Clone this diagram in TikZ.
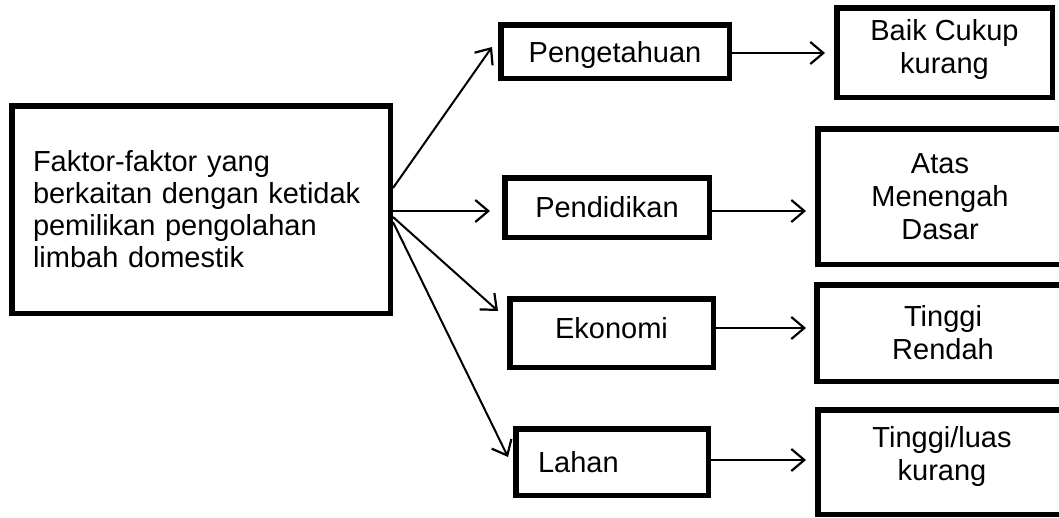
\documentclass[tikz,border=0pt]{standalone}
\usepackage{fontspec}
\setmainfont{Liberation Sans}
\usetikzlibrary{arrows.meta,calc}
\tikzset{
  box/.style={draw, line width=5.5pt, inner sep=0pt, font=\fontsize{29pt}{32pt}\selectfont},
  rbox/.style={box, align=center, font=\fontsize{29pt}{33pt}\selectfont},
  conn/.style={line width=2pt, -{Straight Barb[length=13pt,width=22pt,line width=2.2pt]}},
}
\begin{document}
\begin{tikzpicture}[x=1pt,y=-1pt]
\useasboundingbox (0,0) rectangle (1059,517);
\clip (0,0) rectangle (1059,517);
% main box
\node[box, minimum width=378.5pt, minimum height=207.5pt, text width=336pt, align=left] (main) at (201,209.5)
  {Faktor-faktor yang\\ berkaitan dengan ketidak\\ pemilikan pengolahan\\ limbah domestik};
% middle boxes
\node[box, minimum width=228.5pt, minimum height=53.5pt, text depth=0pt] (peng) at (615,51.5) {Pengetahuan};
\node[box, minimum width=204.5pt, minimum height=59.5pt] (pend) at (607,207.5) {Pendidikan};
\node[box, minimum width=203.5pt, minimum height=68.5pt, text depth=10pt] (ekon) at (611.5,333) {Ekonomi};
\node[box, minimum width=192.5pt, minimum height=66.5pt, text width=148pt, align=left] (lahan) at (612,462) {Lahan};
% right boxes
\node[rbox, minimum width=215.5pt, minimum height=89.5pt, text depth=12pt] (r1) at (944.5,52.5) {Baik Cukup\\ kurang};
\node[rbox, minimum width=244.5pt, minimum height=135.5pt] (r2) at (940,196.5) {Atas\\ Menengah\\ Dasar};
\node[rbox, minimum width=252.5pt, minimum height=96.5pt] (r3) at (943,333) {Tinggi\\ Rendah};
\node[rbox, minimum width=248.5pt, minimum height=104.5pt, text depth=18pt] (r4) at (942,462) {Tinggi/luas\\ kurang};
% connectors from main box
\draw[conn] ($(main.east)+(0,-21.5)$) -- ($(peng.west)+(-6,-4.5)$);
\draw[conn] ($(main.east)+(0,1.5)$) -- ($(pend.west)+(-12,3.5)$);
\draw[conn] ($(main.east)+(0,7.5)$) -- ($(ekon.west)+(-9,-22)$);
\draw[conn] ($(main.east)+(0,12.5)$) -- ($(lahan.west)+(-5,-5)$);
% connectors to right boxes
\draw[conn] ($(peng.east)+(0,1.5)$) -- ($(r1.west)+(-9,0.5)$);
\draw[conn] ($(pend.east)+(0,3.5)$) -- ($(r2.west)+(-9,14.5)$);
\draw[conn] ($(ekon.east)+(0,-5)$) -- ($(r3.west)+(-8,-5)$);
\draw[conn] ($(lahan.east)+(0,-2)$) -- ($(r4.west)+(-9,-2)$);
\end{tikzpicture}
\end{document}
